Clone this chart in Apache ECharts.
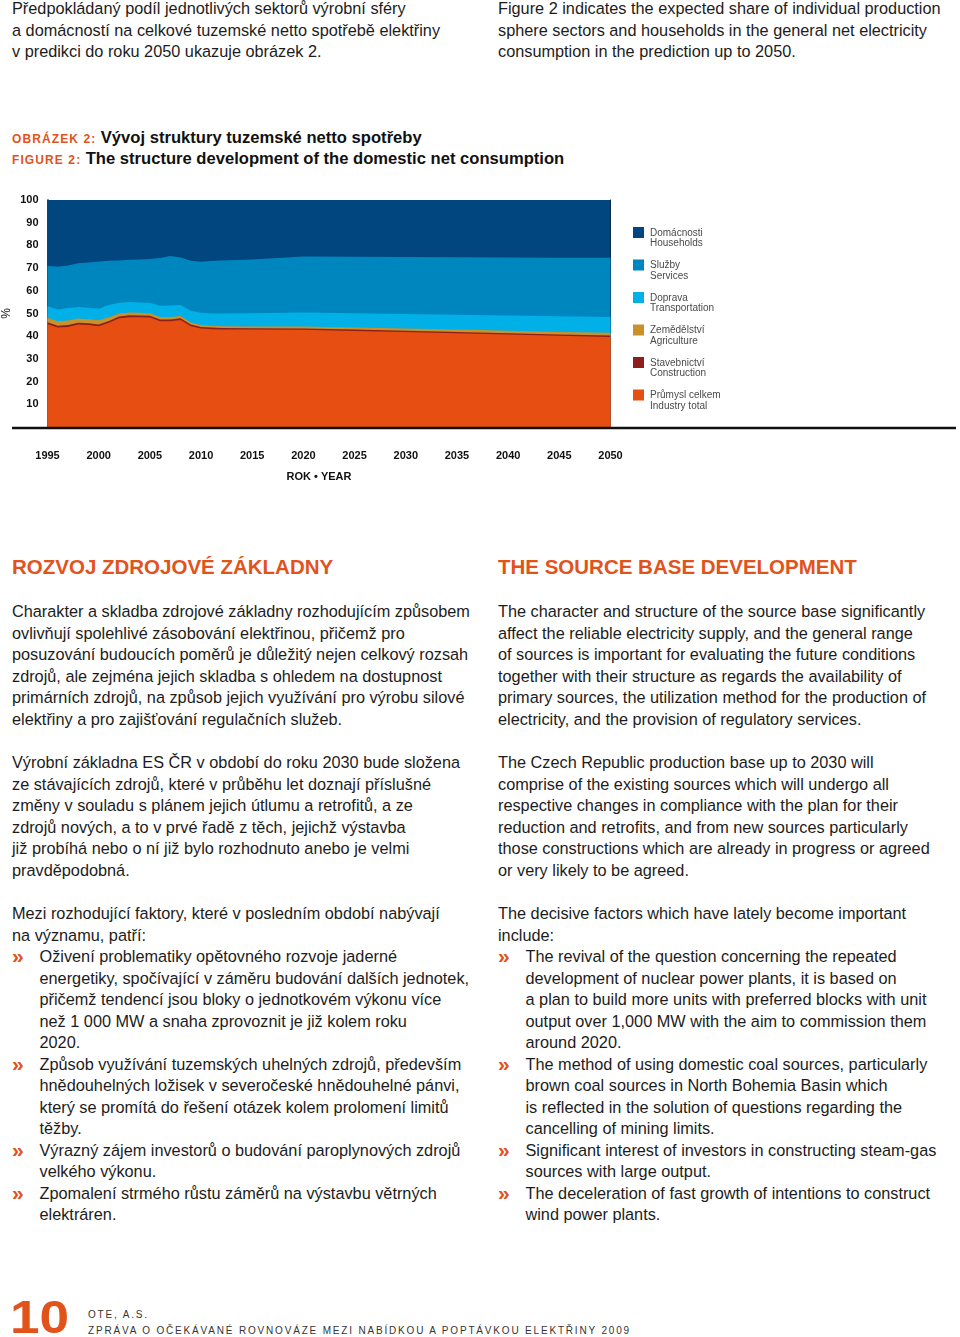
<!DOCTYPE html>
<html>
<head>
<meta charset="utf-8">
<script src="https://cdn.jsdelivr.net/npm/echarts@6/dist/echarts.min.js"></script>
<style>
  html, body { margin: 0; padding: 0; background: #fff; }
  body { width: 960px; height: 1337px; position: relative; overflow: hidden;
         font-family: "Liberation Sans", Arial, sans-serif; color: #1c1c1c; }
  .blk { position: absolute; font-size: 16.3px; line-height: 21.5px; white-space: nowrap; }
  .blk div { height: 21.5px; }
  .h { position: absolute; font-weight: bold; font-size: 20.5px; color: #e2531b; white-space: nowrap; line-height: 24px; }
  .li { position: relative; padding-left: 27.5px; }
  .li .b { position: absolute; left: 0; top: -1px; color: #e2531b; font-weight: bold; font-size: 21px; }
  .ft { position: absolute; left: 12px; white-space: nowrap; line-height: 21px; }
  .ft .a { font-weight: bold; font-size: 12px; letter-spacing: 1.1px; color: #e2531b; }
  .ft .t { font-weight: bold; font-size: 16.6px; color: #111; }
  #chart { position: absolute; left: 0; top: 120px; width: 960px; height: 380px; }
  .foot10 { position: absolute; left: 10px; top: 1292px; font-size: 47px; font-weight: bold; color: #e2531b; line-height: 50px; transform: scaleX(1.13); transform-origin: 0 0; }
  .foot { position: absolute; left: 88px; font-size: 10px; letter-spacing: 1.82px; color: #333; white-space: nowrap; line-height: 12px; }
</style>
</head>
<body>

<div class="blk" style="left:12px; top:-2px;">
  <div>Předpokládaný podíl jednotlivých sektorů výrobní sféry</div>
  <div>a domácností na celkové tuzemské netto spotřebě elektřiny</div>
  <div>v predikci do roku 2050 ukazuje obrázek 2.</div>
</div>
<div class="blk" style="left:498px; top:-2px;">
  <div>Figure 2 indicates the expected share of individual production</div>
  <div>sphere sectors and households in the general net electricity</div>
  <div>consumption in the prediction up to 2050.</div>
</div>

<div class="ft" style="top:127px;"><span class="a">OBRÁZEK 2:</span> <span class="t">Vývoj struktury tuzemské netto spotřeby</span></div>
<div class="ft" style="top:148px;"><span class="a">FIGURE 2:</span> <span class="t">The structure development of the domestic net consumption</span></div>

<div id="chart"></div>

<div class="h" style="left:12px; top:555px;">ROZVOJ ZDROJOVÉ ZÁKLADNY</div>
<div class="h" style="left:498px; top:555px;">THE SOURCE BASE DEVELOPMENT</div>

<div class="blk" style="left:12px; top:601px;">
  <div>Charakter a skladba zdrojové základny rozhodujícím způsobem</div>
  <div>ovlivňují spolehlivé zásobování elektřinou, přičemž pro</div>
  <div>posuzování budoucích poměrů je důležitý nejen celkový rozsah</div>
  <div>zdrojů, ale zejména jejich skladba s ohledem na dostupnost</div>
  <div>primárních zdrojů, na způsob jejich využívání pro výrobu silové</div>
  <div>elektřiny a pro zajišťování regulačních služeb.</div>
</div>
<div class="blk" style="left:498px; top:601px;">
  <div>The character and structure of the source base significantly</div>
  <div>affect the reliable electricity supply, and the general range</div>
  <div>of sources is important for evaluating the future conditions</div>
  <div>together with their structure as regards the availability of</div>
  <div>primary sources, the utilization method for the production of</div>
  <div>electricity, and the provision of regulatory services.</div>
</div>

<div class="blk" style="left:12px; top:752px;">
  <div>Výrobní základna ES ČR v období do roku 2030 bude složena</div>
  <div>ze stávajících zdrojů, které v průběhu let doznají příslušné</div>
  <div>změny v souladu s plánem jejich útlumu a retrofitů, a ze</div>
  <div>zdrojů nových, a to v prvé řadě z těch, jejichž výstavba</div>
  <div>již probíhá nebo o ní již bylo rozhodnuto anebo je velmi</div>
  <div>pravděpodobná.</div>
</div>
<div class="blk" style="left:498px; top:752px;">
  <div>The Czech Republic production base up to 2030 will</div>
  <div>comprise of the existing sources which will undergo all</div>
  <div>respective changes in compliance with the plan for their</div>
  <div>reduction and retrofits, and from new sources particularly</div>
  <div>those constructions which are already in progress or agreed</div>
  <div>or very likely to be agreed.</div>
</div>

<div class="blk" style="left:12px; top:903px;">
  <div>Mezi rozhodující faktory, které v posledním období nabývají</div>
  <div>na významu, patří:</div>
  <div class="li"><span class="b">»</span>Oživení problematiky opětovného rozvoje jaderné</div>
  <div class="li">energetiky, spočívající v záměru budování dalších jednotek,</div>
  <div class="li">přičemž tendencí jsou bloky o jednotkovém výkonu více</div>
  <div class="li">než 1 000 MW a snaha zprovoznit je již kolem roku</div>
  <div class="li">2020.</div>
  <div class="li"><span class="b">»</span>Způsob využívání tuzemských uhelných zdrojů, především</div>
  <div class="li">hnědouhelných ložisek v severočeské hnědouhelné pánvi,</div>
  <div class="li">který se promítá do řešení otázek kolem prolomení limitů</div>
  <div class="li">těžby.</div>
  <div class="li"><span class="b">»</span>Výrazný zájem investorů o budování paroplynových zdrojů</div>
  <div class="li">velkého výkonu.</div>
  <div class="li"><span class="b">»</span>Zpomalení strmého růstu záměrů na výstavbu větrných</div>
  <div class="li">elektráren.</div>
</div>
<div class="blk" style="left:498px; top:903px;">
  <div>The decisive factors which have lately become important</div>
  <div>include:</div>
  <div class="li"><span class="b">»</span>The revival of the question concerning the repeated</div>
  <div class="li">development of nuclear power plants, it is based on</div>
  <div class="li">a plan to build more units with preferred blocks with unit</div>
  <div class="li">output over 1,000 MW with the aim to commission them</div>
  <div class="li">around 2020.</div>
  <div class="li"><span class="b">»</span>The method of using domestic coal sources, particularly</div>
  <div class="li">brown coal sources in North Bohemia Basin which</div>
  <div class="li">is reflected in the solution of questions regarding the</div>
  <div class="li">cancelling of mining limits.</div>
  <div class="li"><span class="b">»</span>Significant interest of investors in constructing steam-gas</div>
  <div class="li">sources with large output.</div>
  <div class="li"><span class="b">»</span>The deceleration of fast growth of intentions to construct</div>
  <div class="li">wind power plants.</div>
</div>

<div class="foot10">10</div>
<div class="foot" style="top:1309px;">OTE, A.S.</div>
<div class="foot" style="top:1325px;">ZPRÁVA O OČEKÁVANÉ ROVNOVÁZE MEZI NABÍDKOU A POPTÁVKOU ELEKTŘINY 2009</div>

<script>
// ---- data (shares of domestic net consumption, %) ----
const years        = [1995,1996,1997,1998,1999,2000,2001,2002,2003,2004,2005,2006,2007,2008,2009,2010,2011,2012,2015,2020,2025,2030,2035,2040,2045,2050];
const industry     = [45.3,43.8,44.1,45.1,44.9,44.4,45.9,47.9,48.4,48.3,48.2,46.6,46.6,47.1,44.4,43.4,43.1,42.9,42.9,42.8,42.3,41.8,41.3,40.7,40.2,39.7];
const construction = [0.8,0.8,0.8,0.8,0.8,0.8,0.8,0.8,0.8,0.8,0.8,0.8,0.8,0.8,0.7,0.7,0.7,0.7,0.6,0.6,0.6,0.6,0.6,0.6,0.6,0.6];
const agriculture  = [2.0,2.0,2.0,1.9,1.8,1.8,1.7,1.3,1.2,1.2,1.1,1.1,1.1,1.0,0.9,0.8,0.8,0.8,0.8,0.9,0.9,1.0,1.0,1.1,1.1,1.2];
const transport    = [5.1,5.2,5.5,5.1,5.0,5.1,5.3,4.7,4.7,4.6,4.6,4.9,5.0,4.8,5.2,5.4,5.4,5.6,5.8,6.1,6.3,6.4,6.6,6.7,6.9,7.0];
const services     = [17.8,18.8,18.8,19.2,20.0,20.8,19.5,18.7,18.6,18.9,19.3,21.0,21.8,21.0,22.0,22.5,23.1,23.4,23.7,24.7,24.9,25.1,25.3,25.6,25.8,26.1];
const households   = [29.0,29.4,28.8,27.9,27.5,27.1,26.8,26.6,26.3,26.2,26.0,25.6,24.7,25.3,26.8,27.2,26.9,26.6,26.2,24.9,25.0,25.1,25.2,25.3,25.4,25.4];

const namesCz = ['Průmysl celkem','Stavebnictví','Zemědělství','Doprava','Služby','Domácnosti'];
const namesEn = ['Industry total','Construction','Agriculture','Transportation','Services','Households'];
const yTicks  = [10,20,30,40,50,60,70,80,90,100];
const xTicks  = [1995,2000,2005,2010,2015,2020,2025,2030,2035,2040,2045,2050];

const colors = ['#e64e12','#8c1e1e','#c8912a','#00b0e6','#0086be','#02467f'];
const values = [industry, construction, agriculture, transport, services, households];

const chart = echarts.init(document.getElementById('chart'), null, {renderer: 'canvas'});
const enOf = {};
namesCz.forEach((n, i) => enOf[n] = namesEn[i]);

// stacked (cumulative) layers; the top layer is drawn first so lower layers paint over it
const series = [];
for (let i = values.length - 1; i >= 0; i--) {
  series.push({
    name: namesCz[i],
    type: 'line',
    showSymbol: false,
    symbol: 'none',
    lineStyle: { width: 0 },
    areaStyle: { color: colors[i], opacity: 1, origin: 'start' },
    itemStyle: { color: colors[i] },
    data: years.map((y, k) => {
      let cum = 0;
      for (let j = 0; j <= i; j++) cum += values[j][k];
      return [y, +cum.toFixed(2)];
    }),
    z: 2
  });
}

chart.setOption({
  animation: false,
  grid: { left: 47.5, top: 80, width: 563, height: 227, containLabel: false, outerBoundsMode: 'none' },
  xAxis: {
    type: 'value', min: 1995, max: 2050, interval: 5,
    name: 'ROK • YEAR', nameLocation: 'middle', nameGap: 44,
    nameTextStyle: { fontFamily: 'Liberation Sans', fontWeight: 'bold', fontSize: 11, color: '#111', padding: [0, 20, 0, 0] },
    axisLine: { show: false }, axisTick: { show: false }, splitLine: { show: false },
    axisLabel: {
      margin: 23, fontFamily: 'Liberation Sans', fontWeight: 'bold', fontSize: 11, color: '#111',
      showMinLabel: true, showMaxLabel: true,
      formatter: v => xTicks.includes(v) ? String(v) : ''
    }
  },
  yAxis: [{
    type: 'value', min: 0, max: 100, interval: 10,
    name: '%', nameLocation: 'middle', nameRotate: 90, nameGap: 35, nameMoveOverlap: false,
    nameTextStyle: { fontFamily: 'Liberation Sans', fontSize: 12, color: '#111' },
    axisLine: { show: true, lineStyle: { color: '#111', width: 1.6 } },
    axisTick: { show: false }, splitLine: { show: false },
    axisLabel: {
      margin: 9, fontFamily: 'Liberation Sans', fontWeight: 'bold', fontSize: 11, color: '#111',
      formatter: v => yTicks.includes(v) ? String(v) : ''
    }
  }, {
    type: 'value', min: 0, max: 100, position: 'right',
    axisLine: { show: true, lineStyle: { color: '#111', width: 1 } },
    axisTick: { show: false }, axisLabel: { show: false }, splitLine: { show: false }
  }],
  legend: {
    orient: 'vertical', left: 633, top: 107, padding: 0,
    itemWidth: 11, itemHeight: 22, itemGap: 10.5,
    icon: 'path://M0,0L11,0L11,11L0,11Z M0,21.9L0.01,22L0,22Z',
    itemStyle: { borderWidth: 0 },
    data: namesCz.slice().reverse(),
    formatter: n => n + '\n' + enOf[n],
    textStyle: { fontFamily: 'Liberation Sans', fontSize: 10, lineHeight: 10.5, color: '#4a4a4a', padding: [0,0,0,1] },
    selectedMode: false
  },
  graphic: [{
    type: 'line', silent: true, z: 10,
    shape: { x1: 12, y1: 308, x2: 956, y2: 308 },
    style: { stroke: '#111', lineWidth: 2.4 }
  }],
  series: series
});
</script>
</body>
</html>
